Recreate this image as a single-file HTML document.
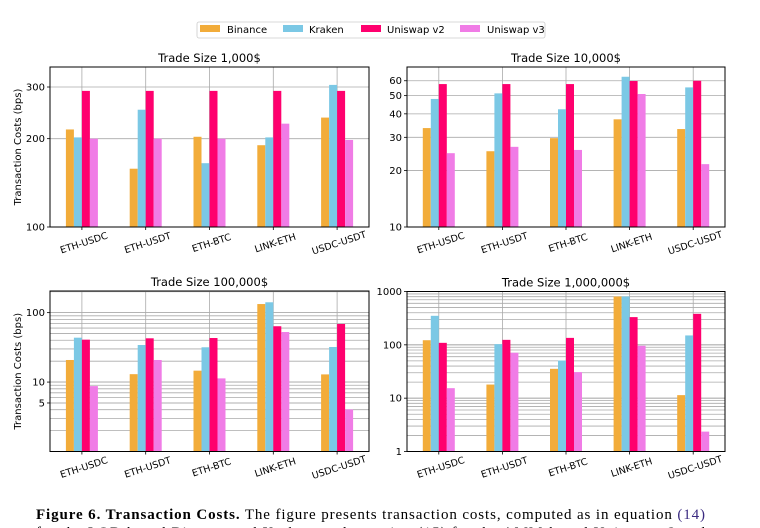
<!DOCTYPE html>
<html><head><meta charset="utf-8"><style>
html,body{margin:0;padding:0;background:#fff;}
svg{display:block;font-family:"DejaVu Sans","Liberation Sans",sans-serif;}
</style></head><body>
<svg id="fig" width="760" height="528" viewBox="0 0 760 528">
<g>
<rect x="197" y="22" width="348" height="16" fill="#fff" stroke="#ccc" stroke-width="0.8" rx="2"/>
<rect x="200" y="25" width="20" height="7" fill="#F2AC3A"/>
<text x="227" y="33" font-size="10">Binance</text>
<rect x="283" y="25" width="20" height="7" fill="#7BC8E5"/>
<text x="309" y="33" font-size="10">Kraken</text>
<rect x="361" y="25" width="20" height="7" fill="#FF006E"/>
<text x="387" y="33" font-size="10">Uniswap v2</text>
<rect x="460" y="25" width="20" height="7" fill="#F07CE6"/>
<text x="487" y="33" font-size="10">Uniswap v3</text>
</g>
<g font-family="'Liberation Serif',serif" font-size="15">
<text x="36" y="519" textLength="669" lengthAdjust="spacing"><tspan font-weight="bold">Figure 6.  Transaction Costs.</tspan> The figure presents transaction costs, computed as in equation <tspan fill="#3a2a80">(14)</tspan></text>
<text x="36" y="537" textLength="669" lengthAdjust="spacing">for the LOB-based Binance and Kraken, and equation (15) for the AMM-based Uniswap v2 and</text>
</g>
</svg>
<script>
const categories = ["ETH-USDC","ETH-USDT","ETH-BTC","LINK-ETH","USDC-USDT"];
const seriesNames = ["Binance","Kraken","Uniswap v2","Uniswap v3"];
const seriesColors = ["#F2AC3A","#7BC8E5","#FF006E","#F07CE6"];
const titles = ["Trade Size 1,000$","Trade Size 10,000$","Trade Size 100,000$","Trade Size 1,000,000$"];
const binance1k = [215,158,203,190,236];
const kraken1k = [202,251,165,202,305];
const uniV2_1k = [291,291,291,291,291];
const uniV3_1k = [200,200,200,225,198];
const binance10k = [33.6,25.3,29.7,37.4,33.2];
const kraken10k = [48,51.4,42.3,63,55.3];
const uniV2_10k = [57.6,57.6,57.6,59.8,60];
const uniV3_10k = [24.7,26.7,25.7,51,21.6];
const binance100k = [20.8,13,14.6,133,12.9];
const kraken100k = [43.6,34.2,31.7,141,32];
const uniV2_100k = [40.8,42.7,43.1,63.7,68.7];
const uniV3_100k = [8.75,20.8,11.3,52.6,4.03];
const binance1m = [122,18,35.5,806,11.4];
const kraken1m = [350,103,50.8,806,150];
const uniV2_1m = [109,124,135,331,381];
const uniV3_1m = [15.4,71,30.8,96,2.36];
const domains = [[100,351],[10,71],[1,205],[1,1000]];
const ticks1k = [100,200,300];
const ticks10k = [10,20,30,40,50,60];
const ticks100k = [5,10,100];
const ticks1m = [1,10,100,1000];
const gridMinor = [false,false,true,true];

const NS="http://www.w3.org/2000/svg";
const svg=document.getElementById('fig');
function mk(tag,attrs,parent){const e=document.createElementNS(NS,tag);for(const k in attrs)e.setAttribute(k,attrs[k]);(parent||svg).appendChild(e);return e;}
const panels=[
 {x0:50,x1:369,y0:67,y1:227,data:[binance1k,kraken1k,uniV2_1k,uniV3_1k],ticks:ticks1k,ylab:true},
 {x0:407,x1:725,y0:67,y1:227,data:[binance10k,kraken10k,uniV2_10k,uniV3_10k],ticks:ticks10k,ylab:false},
 {x0:50,x1:369,y0:291,y1:451.5,data:[binance100k,kraken100k,uniV2_100k,uniV3_100k],ticks:ticks100k,ylab:true},
 {x0:407,x1:725,y0:291.5,y1:451.5,data:[binance1m,kraken1m,uniV2_1m,uniV3_1m],ticks:ticks1m,ylab:false}
];
panels.forEach((p,pi)=>{
  const g=mk('g',{});
  
  
  const [dmin,dmax]=domains[pi];
  const yS=v=>p.y1-(Math.log10(v)-Math.log10(dmin))/(Math.log10(dmax)-Math.log10(dmin))*(p.y1-p.y0);
  const step=(p.x1-p.x0)/categories.length;
  const xS=i=>p.x0+step*(i+0.5);
  if(gridMinor[pi]){
    for(let d=Math.floor(Math.log10(dmin));d<=Math.ceil(Math.log10(dmax));d++){
      for(let m=1;m<10;m++){const v=m*Math.pow(10,d);if(v<=dmin||v>=dmax)continue;
        const y=yS(v);const l=mk('line',{x1:p.x0,x2:p.x1,y1:y,y2:y,stroke:'#aaa','stroke-width':0.8},g);
        }
    }
  }
  p.ticks.forEach(t=>{
    const y=yS(t);
    const l=mk('line',{x1:p.x0,x2:p.x1,y1:y,y2:y,stroke:'#aaa','stroke-width':0.8},g);
    
    const tk=mk('line',{x1:p.x0-3,x2:p.x0,y1:y,y2:y,stroke:'#000','stroke-width':0.8},g);
    
    const tx=mk('text',{x:p.x0-5,y:y+3.5,'font-size':10,'text-anchor':'end'},g);
    tx.textContent=t;
    
  });
  categories.forEach((c,i)=>{
    const x=xS(i);
    const l=mk('line',{x1:x,x2:x,y1:p.y0,y2:p.y1,stroke:'#aaa','stroke-width':0.8},g);
    
    p.data.forEach((arr,s)=>{
      const bw=8;const bx=x-16+s*bw;const y=yS(arr[i]);
      const r=mk('rect',{x:bx,y:y,width:bw,height:p.y1-y,fill:seriesColors[s]},g);
      
      
    });
    const tk=mk('line',{x1:x,x2:x,y1:p.y1,y2:p.y1+3,stroke:'#000','stroke-width':0.8},g);
    
    const tx=mk('text',{x:x+2,y:p.y1+19,'font-size':9.5,'text-anchor':'middle',transform:`rotate(-18 ${x+2} ${p.y1+16})`},g);
    tx.textContent=c;
    
  });
  const fr=mk('rect',{x:p.x0,y:p.y0,width:p.x1-p.x0,height:p.y1-p.y0,fill:'none',stroke:'#000','stroke-width':1},g);
  
  const t=mk('text',{x:(p.x0+p.x1)/2,y:p.y0-5,'font-size':11.5,'text-anchor':'middle'},g);
  t.textContent=titles[pi];
  
  if(p.ylab){
    const cy=(p.y0+p.y1)/2;
    const yl=mk('text',{x:21,y:cy,'font-size':10,'text-anchor':'middle',transform:`rotate(-90 21 ${cy})`},g);
    yl.textContent='Transaction Costs (bps)';
    
  }
});
</script>
</body></html>
